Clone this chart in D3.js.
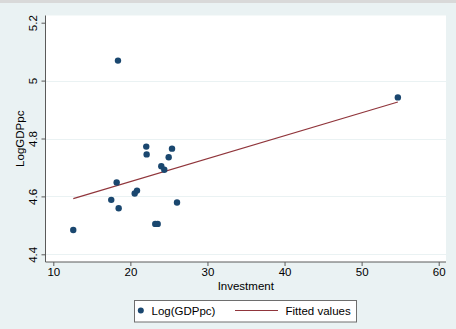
<!DOCTYPE html>
<html>
<head>
<meta charset="utf-8">
<script src="https://cdn.jsdelivr.net/npm/d3@7"></script>
<style>
  html, body { margin: 0; padding: 0; background: #eaf2f3; }
  svg { display: block; }
  text { font-family: "Liberation Sans", Arial, sans-serif; fill: #000; }
</style>
</head>
<body>
<svg id="chart" width="456" height="329"></svg>
<script>
// Investment share vs. log GDP per capita
const investment = [12.59, 17.52, 18.22, 18.48, 20.56, 20.86, 22.06, 22.11, 23.23, 23.54,
                    24.01, 24.40, 24.97, 25.40, 26.05, 18.39, 54.70];
const logGDPpc   = [4.484, 4.588, 4.648, 4.559, 4.610, 4.620, 4.772, 4.745, 4.505, 4.505,
                    4.704, 4.692, 4.735, 4.765, 4.579, 5.069, 4.942];
const xTicks = [10, 20, 30, 40, 50, 60];
const yTicks = [4.4, 4.6, 4.8, 5, 5.2];
const yGrid  = [4.4, 4.6, 4.8, 5];
const xTitle = "Investment";
const yTitle = "LogGDPpc";
const legendLabels = ["Log(GDPpc)", "Fitted values"];

const W = 456, H = 329;
const plot = { left: 45.5, right: 446, top: 15.5, bottom: 262 };

const svg = d3.select("#chart");

// background and top strip
svg.append("rect").attr("width", W).attr("height", H).attr("fill", "#eaf2f3");
svg.append("rect").attr("width", W).attr("height", 3).attr("fill", "#d9d9d9");

// x: 10 -> 53.3, 60 -> 438.7 ; y: 4.4 -> 254.3, 5.2 -> 22.7
const x = d3.scaleLinear().domain([10, 60]).range([53.3, 438.7]);
const y = d3.scaleLinear().domain([4.4, 5.2]).range([254.3, 22.7]);

// plot region
svg.append("rect")
  .attr("x", plot.left).attr("y", plot.top)
  .attr("width", plot.right - plot.left).attr("height", plot.bottom - plot.top)
  .attr("fill", "#ffffff");

// horizontal gridlines
svg.append("g").selectAll("line").data(yGrid).join("line")
  .attr("x1", plot.left).attr("x2", plot.right)
  .attr("y1", d => Math.round(y(d)) + 0.5).attr("y2", d => Math.round(y(d)) + 0.5)
  .attr("stroke", "#eaf2f3").attr("stroke-width", 1);

// y axis
const yAxis = svg.append("g")
  .attr("transform", `translate(${plot.left},0)`)
  .call(d3.axisLeft(y).tickValues(yTicks).tickFormat(d3.format("~g")).tickSize(4).tickPadding(3));
yAxis.select(".domain").attr("d", `M0,${plot.top}V${plot.bottom}`).attr("stroke", "#5a5a5a");
yAxis.selectAll(".tick line").attr("stroke", "#5a5a5a");
yAxis.selectAll(".tick text")
  .attr("font-size", 11.5)
  .attr("fill", "#000")
  .attr("text-anchor", "middle")
  .attr("x", null).attr("dy", null)
  .attr("transform", "translate(-13,0) rotate(-90)")
  .attr("dominant-baseline", "central");

// x axis
const xAxis = svg.append("g")
  .attr("transform", `translate(0,${plot.bottom})`)
  .call(d3.axisBottom(x).tickValues(xTicks).tickFormat(d3.format("d")).tickSize(4).tickPadding(2));
xAxis.select(".domain").attr("d", `M${plot.left},0H${plot.right}`).attr("stroke", "#5a5a5a");
xAxis.selectAll(".tick line").attr("stroke", "#5a5a5a");
xAxis.selectAll(".tick text").attr("font-size", 11.5).attr("fill", "#000");

// axis titles
svg.append("text")
  .attr("x", (plot.left + plot.right) / 2).attr("y", 290)
  .attr("text-anchor", "middle").attr("font-size", 11.5)
  .text(xTitle);
svg.append("text")
  .attr("transform", `translate(20,${(plot.top + plot.bottom) / 2}) rotate(-90)`)
  .attr("text-anchor", "middle").attr("dominant-baseline", "central").attr("font-size", 11.5)
  .text(yTitle);

// least-squares fit of logGDPpc on investment
const pts = investment.map((v, i) => ({ x: v, y: logGDPpc[i] }));
const mx = d3.mean(pts, d => d.x), my = d3.mean(pts, d => d.y);
const sxy = d3.sum(pts, d => (d.x - mx) * (d.y - my));
const sxx = d3.sum(pts, d => (d.x - mx) ** 2);
const slope = sxy / sxx, intercept = my - slope * mx;
const xExt = d3.extent(investment);
const fitted = xExt.map(v => ({ x: v, y: intercept + slope * v }));

svg.append("path")
  .datum(fitted)
  .attr("d", d3.line().x(d => x(d.x)).y(d => y(d.y)))
  .attr("fill", "none").attr("stroke", "#90353b").attr("stroke-width", 1.1);

// scatter markers
svg.append("g").selectAll("circle").data(pts).join("circle")
  .attr("cx", d => x(d.x)).attr("cy", d => y(d.y)).attr("r", 3.2)
  .attr("fill", "#1a476f");

// legend
const lg = svg.append("g");
lg.append("rect")
  .attr("x", 134.5).attr("y", 300.5).attr("width", 222).attr("height", 21.5)
  .attr("fill", "#ffffff").attr("stroke", "#6e6e6e").attr("stroke-width", 1);
lg.append("circle").attr("cx", 140.8).attr("cy", 310.5).attr("r", 3).attr("fill", "#1a476f");
lg.append("text").attr("x", 151.5).attr("y", 311).attr("dominant-baseline", "central")
  .attr("font-size", 11.5).text(legendLabels[0]);
lg.append("line").attr("x1", 235).attr("x2", 278).attr("y1", 310.5).attr("y2", 310.5)
  .attr("stroke", "#90353b").attr("stroke-width", 1.1);
lg.append("text").attr("x", 285.5).attr("y", 311).attr("dominant-baseline", "central")
  .attr("font-size", 11.5).text(legendLabels[1]);
</script>
</body>
</html>
